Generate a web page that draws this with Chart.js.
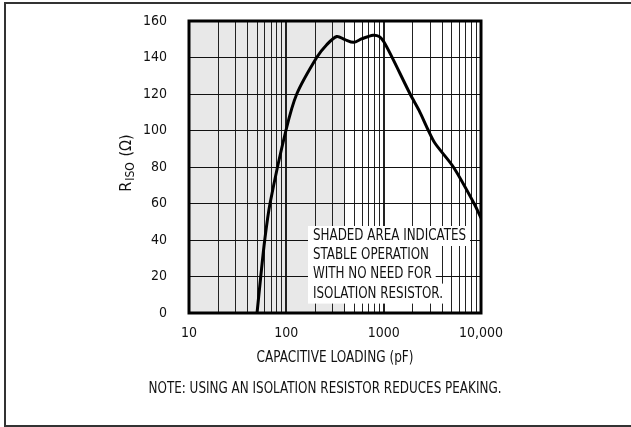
<!DOCTYPE html>
<html lang="en">
<head>
<meta charset="UTF-8">
<title>RISO vs Capacitive Loading</title>
<script src="https://cdn.jsdelivr.net/npm/chart.js"></script>
<style>
  body { margin: 0; background: #fff; }
</style>
</head>
<body>
<canvas id="risoChart" width="631" height="427"></canvas>

<script>
  // values (pF -> ohms)
  var capLoading = [50, 54.6, 60, 68, 99, 128, 205, 260, 330, 400, 490, 600, 780, 900, 1000, 1210, 1870, 2310, 2880, 3370, 5200, 8490, 10000];
  var risoOhms = [0, 20, 40, 60, 100, 120, 140, 147, 151.5, 149.8, 148.3, 150.3, 152.2, 151.5, 148.8, 140.5, 120, 111, 100, 93, 80, 60, 52];
  var decadeLabels = { 10: '10', 100: '100', 1000: '1000', 10000: '10,000' };
  var shadedLimit = 400; // pF, right edge of the stable (shaded) region
  var boxLines = ['SHADED AREA INDICATES', 'STABLE OPERATION', 'WITH NO NEED FOR', 'ISOLATION RESISTOR.'];
  var xTitle = 'CAPACITIVE LOADING (pF)';
  var bottomNote = 'NOTE: USING AN ISOLATION RESISTOR REDUCES PEAKING.';

  var FONT = '"Liberation Sans Narrow", "DejaVu Sans Condensed", sans-serif';

  // draw text squeezed to the narrow look of the original
  function squeezed(ctx, text, x, y, width) {
    ctx.fillText(text, x, y, width);
  }

  var extras = {
    id: 'extras',
    beforeDraw: function(chart) {
      var ctx = chart.ctx, a = chart.chartArea;
      var xr = chart.scales.x.getPixelForValue(shadedLimit);
      ctx.save();
      ctx.fillStyle = '#e8e8e8';
      ctx.fillRect(a.left, a.top, xr - a.left, a.bottom - a.top);
      // page frame
      ctx.strokeStyle = '#333';
      ctx.lineWidth = 2;
      ctx.beginPath();
      ctx.moveTo(5, 427); ctx.lineTo(5, 3); ctx.lineTo(631, 3);
      ctx.moveTo(5, 426); ctx.lineTo(631, 426);
      ctx.stroke();
      ctx.restore();
    },
    afterDatasetsDraw: function(chart) {
      var ctx = chart.ctx, a = chart.chartArea;
      ctx.save();

      // note box inside the plot
      ctx.font = '16px ' + FONT;
      ctx.textBaseline = 'alphabetic';
      var k = 153 / ctx.measureText(boxLines[0]).width;
      if (k > 1) k = 1;
      var tx = a.left + 124, ty = a.top + 219;
      boxLines.forEach(function(line, i) {
        var w = ctx.measureText(line).width * k;
        var y = ty + i * 19.2;
        ctx.fillStyle = '#fff';
        ctx.fillRect(tx - 5, y - 14, w + 9, 20);
      });
      ctx.fillStyle = '#111';
      boxLines.forEach(function(line, i) {
        squeezed(ctx, line, tx, ty + i * 19.2, ctx.measureText(line).width * k);
      });

      // plot frame
      ctx.strokeStyle = '#000';
      ctx.lineWidth = 3;
      ctx.strokeRect(a.left, a.top, a.right - a.left, a.bottom - a.top);

      // x axis title and bottom note
      ctx.font = '15px ' + FONT;
      ctx.textAlign = 'center';
      ctx.textBaseline = 'middle';
      squeezed(ctx, xTitle, (a.left + a.right) / 2, 358, 157);
      squeezed(ctx, bottomNote, 325, 389, 353);
      ctx.restore();

      // y axis title with subscript
      ctx.save();
      ctx.translate(127, 163);
      ctx.rotate(-Math.PI / 2);
      ctx.fillStyle = '#111';
      ctx.textBaseline = 'middle';
      var big = '16px ' + FONT, small = '12px ' + FONT;
      ctx.font = big; var wR = ctx.measureText('R').width;
      ctx.font = small; var wS = ctx.measureText('ISO').width;
      ctx.font = big; var wU = ctx.measureText(' (\u03A9)').width;
      var x0 = -(wR + wS + wU + 2) / 2;
      ctx.font = big; ctx.fillText('R', x0, 0);
      ctx.font = small; ctx.fillText('ISO', x0 + wR + 1, 4);
      ctx.font = big; ctx.fillText(' (\u03A9)', x0 + wR + wS + 2, 0);
      ctx.restore();
    }
  };

  var ctx = document.getElementById('risoChart').getContext('2d');
  new Chart(ctx, {
    type: 'line',
    data: {
      datasets: [{
        data: capLoading.map(function(c, i) { return { x: c, y: risoOhms[i] }; }),
        borderColor: '#000',
        borderWidth: 3,
        pointRadius: 0,
        fill: false,
        tension: 0.3
      }]
    },
    options: {
      responsive: false,
      animation: false,
      layout: { padding: { left: 129, right: 150, top: 21, bottom: 34 } },
      plugins: { legend: { display: false }, tooltip: { enabled: false } },
      scales: {
        x: {
          type: 'logarithmic',
          min: 10,
          max: 10000,
          afterBuildTicks: function(s) {
            var t = [];
            for (var d = 10; d < 10000; d *= 10) {
              for (var m = 1; m < 10; m++) t.push({ value: d * m });
            }
            t.push({ value: 10000 });
            s.ticks = t;
          },
          afterFit: function(s) { s.height = 80; },
          grid: {
            color: '#222',
            lineWidth: function(c) { return c.tick && decadeLabels[c.tick.value] ? 2 : 1; },
            drawTicks: false
          },
          border: { display: false },
          ticks: {
            autoSkip: false,
            maxRotation: 0,
            padding: 12,
            color: '#111',
            font: { family: FONT, size: 14 },
            callback: function(v) { return decadeLabels[v] || ''; }
          }
        },
        y: {
          min: 0,
          max: 160,
          afterFit: function(s) { s.width = 60; s.paddingTop = 0; s.paddingBottom = 0; },
          grid: { color: '#111', lineWidth: 1, drawTicks: false },
          border: { display: false },
          ticks: {
            stepSize: 20,
            padding: 22,
            color: '#111',
            font: { family: FONT, size: 14 }
          }
        }
      }
    },
    plugins: [extras]
  });
</script>
</body>
</html>
